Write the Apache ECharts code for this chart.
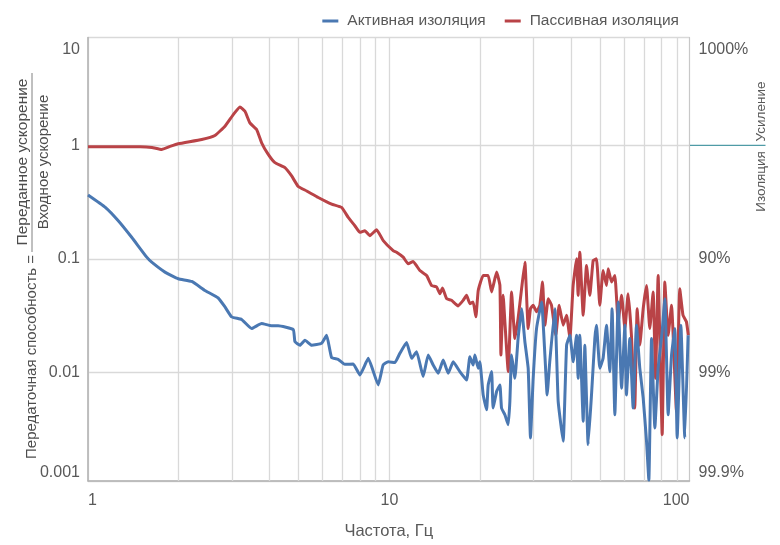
<!DOCTYPE html>
<html>
<head>
<meta charset="utf-8">
<script src="https://cdn.jsdelivr.net/npm/echarts@6/dist/echarts.min.js"></script>
<style>
  html, body { margin: 0; padding: 0; background: #ffffff; }
  #chart { width: 780px; height: 545px; }
</style>
</head>
<body>
<div id="chart"></div>
<script>
// Transmissibility vs. frequency, active vs. passive isolation (log-log)
const seriesNames = ['Активная изоляция', 'Пассивная изоляция'];

const freqActive = [
  1.00, 1.139, 1.26, 1.396, 1.566, 1.627, 1.80, 1.993, 2.208, 2.443,
  2.704, 2.847, 2.996, 3.234, 3.49, 3.767, 4.065, 4.277, 4.797, 4.86,
  5.05, 5.245, 5.52, 5.957, 6.19, 6.43, 6.76, 7.11, 7.585, 7.98,
  8.51, 9.18, 9.53, 9.91, 10.42,
  10.83, 11.4, 11.85, 12.31, 12.94, 13.45, 13.97, 14.52, 15.08, 15.67, 16.28, 17.13, 18.03, 18.49,
  18.96, 19.21, 19.71, 19.96, 20.47, 21.01, 21.27, 21.83, 22.08, 22.68,
  23.26, 23.55, 24.16, 24.78, 25.1, 25.43, 26.08, 26.73, 27.45, 28.15,
  28.87, 29.38, 29.99, 30.77, 31.98, 32.8, 33.37, 34.04, 35.38, 36.3,
  37.71, 38.71, 39.7, 40.7, 41.78,
  42.27, 42.83, 43.95, 44.5, 45.64, 46.83, 48.04, 48.64, 49.89, 51.17,
  52.5, 53.86, 54.8, 55.97, 57.41, 58.92, 60.44, 61.15, 62.75, 64.36,
  66.02, 67.73, 69.5, 71.29, 72.57, 74.07, 75.97, 77.9, 80.32, 82.0,
  84.1, 86.3, 88.5, 90.1, 92.7, 95.5, 97.95
];
const valActive = [
  .366, .286, .217, .155, .1035, .0935, .0764, .0668, .0632, .0527,
  .0452, .0377, .0308, .0292, .0243, .0269, .0257, .0257, .0238, .0186,
  .0173, .0192, .0173, .0180, .0212, .01346, .0130, .01175, .01183, .00947,
  .01327, .00774, .01159, .0124, .01217,
  .01468, .01833, .01327, .0152, .00917, .01418, .01159, .0098, .01282, .0098, .0124, .01014, .00855, .01374,
  .01159, .01418, .01084, .0124, .00632, .00467, .00774, .01014, .00483, .00677,
  .00774, .00483, .00422, .00345, .00553, .01418, .00885, .01988, .0364, .0186,
  .01084, .00264, .00885, .0243, .0417, .01418, .00632, .0124, .0364, .00553,
  .00247, .0173, .0212, .0124, .0212,
  .00885, .0212, .0037, .0173, .0023, .00632, .01988, .026, .01084, .01327,
  .026, .01014, .0364, .00422, .0417, .00724, .026, .00632, .01988, .00483,
  .026, .01084, .00592, .00247, .00112, .01988, .00323, .01084, .02275, .0446,
  .00422, .01418, .0243, .00264, .026, .00264, .0212
];

const freqPassive = [
  1.0, 1.488, 1.63, 1.755, 1.871, 1.993, 2.384, 2.637, 2.847, 3.034,
  3.192, 3.317, 3.444, 3.626, 3.767, 3.963, 4.17, 4.502, 4.738, 4.983,
  5.314, 5.806, 6.43, 6.94, 7.30, 7.68, 7.98, 8.29, 8.61, 9.07,
  9.54, 10.29, 10.56, 11.11, 11.54, 11.99, 12.62, 13.29, 13.8, 14.34,
  14.71, 15.0, 15.48, 16.07, 16.9, 17.57, 18.03, 18.49, 18.96, 19.36,
  19.71, 20.47, 21.27, 21.83, 22.68, 23.26, 23.44, 23.85, 24.16, 24.78,
  25.43, 26.08, 26.73, 27.45, 28.15, 28.87, 29.38, 29.99, 30.77, 31.56,
  32.21, 32.8, 33.65, 34.5, 35.65, 36.57, 37.71, 38.71, 39.7, 40.7,
  41.78, 42.27, 42.83, 43.95, 45.08, 46.24, 47.42, 48.64, 49.89, 51.17,
  52.5, 53.19, 54.58, 55.97, 57.41, 58.92, 60.44, 61.94, 63.53, 65.16,
  66.37, 67.73, 69.5, 71.29, 73.1, 75.0, 76.38, 77.9, 80.35, 82.0,
  84.1, 86.3, 89.6, 91.9, 94.2, 96.7, 98.1
];
const valPassive = [
  .974, .974, .960, .922, .98, 1.035, 1.129, 1.224, 1.477, 1.870,
  2.185, 2.0, 1.581, 1.381, 1.056, .834, .705, .637, .538, .4345,
  .397, .3477, .3038, .284, .232, .196, .1714, .177, .160, .1807,
  .1447, .118, .1145, .1035, .0904, .0947, .0789, .0714, .0583, .0565,
  .0493, .0553, .0446, .0431, .0385, .0431, .0477, .0403, .0417, .0308,
  .0527, .0714, .0714, .0511, .0764, .0583, .01418, .0477, .0279, .01014,
  .0511, .01988, .0298, .0546, .0935, .0243, .0364, .0390, .0341, .0390,
  .0625, .026, .0446, .0390, .0212, .0390, .026, .0318, .01988, .0583,
  .1, .0477, .1145, .0318, .0873, .0477, .0966, .1, .0390, .0789,
  .0583, .0817, .0625, .0714, .0279, .0477, .0243, .0493, .0212, .00483,
  .0364, .0173, .0364, .0583, .0243, .0511, .00885, .0714, .00282, .0625,
  .0212, .0390, .00452, .0546, .0318, .0279, .0212
];

// Axis ranges and intermediate frequency grid lines
const freqMin = 1, freqMax = 99;
const ratioMin = 0.0011, ratioMax = 8.95;
const minorFreqs = [2, 3, 4, 5, 6, 7, 8, 9, 20, 30, 40, 50, 60, 70, 80, 90];

// Tick label texts
const leftTickText = { top: '10', one: '1', tenth: '0.1', hundredth: '0.01', bottom: '0.001' };
const rightTickText = { top: '1000%', one: '', tenth: '90%', hundredth: '99%', bottom: '99.9%' };
const titleMain = 'Передаточная способность =';
const titleNum = 'Переданное ускорение';
const titleDen = 'Входное ускорение';
const gainText = 'Усиление';
const isolText = 'Изоляция';
const xTitle = 'Частота, Гц';

const FONT = "'Liberation Sans', Arial, sans-serif";
const TXT = '#595959';
const BLUE = '#4a78b2';
const RED = '#b94347';
const TICK_SIZE = 16;

function zip(xs, ys) { return xs.map((x, i) => [x, ys[i]]); }
function tickName(v, map) {
  if (v > 5) return '{t|' + map.top + '}';
  if (v < 0.002) return map.bottom;
  if (v > 0.5) return map.one;
  if (v > 0.05) return map.tenth;
  return map.hundredth;
}
const topRich = { t: { fontFamily: FONT, fontSize: TICK_SIZE, color: TXT, padding: [4, 0, 0, 0] } };

const chart = echarts.init(document.getElementById('chart'), null, { renderer: 'canvas' });

chart.setOption({
  animation: false,
  textStyle: { fontFamily: FONT },
  legend: {
    data: seriesNames.map(n => ({ name: n, icon: 'rect' })),
    top: 8, right: 96,
    itemWidth: 16, itemHeight: 3, itemGap: 19,
    textStyle: { fontFamily: FONT, fontSize: 15.5, color: TXT, padding: [0, 0, 0, 4] }
  },
  grid: {
    left: 88, right: 90.5, top: 37.5, bottom: 62,
    show: true, borderColor: '#d6d6d6', borderWidth: 1
  },
  xAxis: {
    type: 'log', logBase: 10, min: freqMin, max: freqMax,
    name: xTitle, nameLocation: 'middle', nameGap: 42,
    nameTextStyle: { fontFamily: FONT, fontSize: 16.5, color: TXT },
    axisLine: { show: true, lineStyle: { color: '#b3b3b3', width: 1.5 } },
    axisTick: { show: false },
    splitLine: { show: true, lineStyle: { color: '#d9d9d9', width: 1.3 } },
    axisLabel: {
      fontFamily: FONT, fontSize: TICK_SIZE, color: TXT, margin: 12,
      showMinLabel: true, showMaxLabel: true,
      alignMinLabel: 'left', alignMaxLabel: 'right',
      formatter: v => (v >= 90 ? '100' : String(Math.round(v)))
    }
  },
  yAxis: [{
    type: 'log', logBase: 10, min: ratioMin, max: ratioMax, position: 'left',
    axisLine: { show: true, lineStyle: { color: '#b3b3b3', width: 1.5 } },
    axisTick: { show: false },
    splitLine: { show: true, lineStyle: { color: '#d9d9d9', width: 1.3 } },
    axisLabel: {
      fontFamily: FONT, fontSize: TICK_SIZE, color: TXT, margin: 8,
      showMinLabel: true, showMaxLabel: true,
      verticalAlignMinLabel: 'bottom', verticalAlignMaxLabel: 'top',
      formatter: v => tickName(v, leftTickText),
      rich: topRich
    }
  }, {
    type: 'log', logBase: 10, min: ratioMin, max: ratioMax, position: 'right',
    axisLine: { show: true, lineStyle: { color: '#c8c8c8', width: 1 } },
    axisTick: { show: false },
    splitLine: { show: false },
    axisLabel: {
      fontFamily: FONT, fontSize: TICK_SIZE, color: TXT, margin: 9,
      showMinLabel: true, showMaxLabel: true,
      verticalAlignMinLabel: 'bottom', verticalAlignMaxLabel: 'top',
      formatter: v => tickName(v, rightTickText),
      rich: topRich
    }
  }],
  series: [{
    name: seriesNames[1], type: 'line', z: 2,
    data: zip(freqPassive, valPassive),
    showSymbol: false, smooth: 0.12,
    lineStyle: { color: RED, width: 3, join: 'round' },
    itemStyle: { color: RED },
    markLine: {
      silent: true, z: 1, symbol: 'none', animation: false,
      label: { show: false },
      lineStyle: { color: '#d9d9d9', width: 1.3, type: 'solid' },
      emphasis: { disabled: true },
      data: minorFreqs.map(f => ({ xAxis: f }))
    }
  }, {
    name: seriesNames[0], type: 'line', z: 3,
    data: zip(freqActive, valActive),
    showSymbol: false, smooth: 0.12,
    lineStyle: { color: BLUE, width: 3, join: 'round' },
    itemStyle: { color: BLUE }
  }]
});

// Side annotations: positioned from the axes' own scales
const yOne = chart.convertToPixel({ yAxisIndex: 0 }, 1);
const xRight = chart.convertToPixel({ xAxisIndex: 0 }, freqMax);
const rot = Math.PI / 2;
const sideText = (text, x, y, size, color) => ({
  type: 'text', x: x, y: y, rotation: rot,
  style: { text: text, fontFamily: FONT, fontSize: size, fill: color || TXT, align: 'center', verticalAlign: 'middle' }
});

chart.setOption({
  graphic: [
    { type: 'line', shape: { x1: xRight, y1: yOne, x2: xRight + 76, y2: yOne },
      style: { stroke: '#4f9ba6', lineWidth: 1.3 } },
    sideText(gainText, xRight + 72, yOne - 34, 13.5),
    sideText(isolText, xRight + 72, yOne + 36, 13.5),
    sideText(titleMain, 32, 357, 15, '#4d4d4d'),
    sideText(titleNum, 23, 162, 15.5, '#4d4d4d'),
    sideText(titleDen, 44, 162, 15, '#4d4d4d'),
    { type: 'line', shape: { x1: 32, y1: 73, x2: 32, y2: 252 },
      style: { stroke: '#808080', lineWidth: 1 } }
  ]
});
</script>
</body>
</html>
